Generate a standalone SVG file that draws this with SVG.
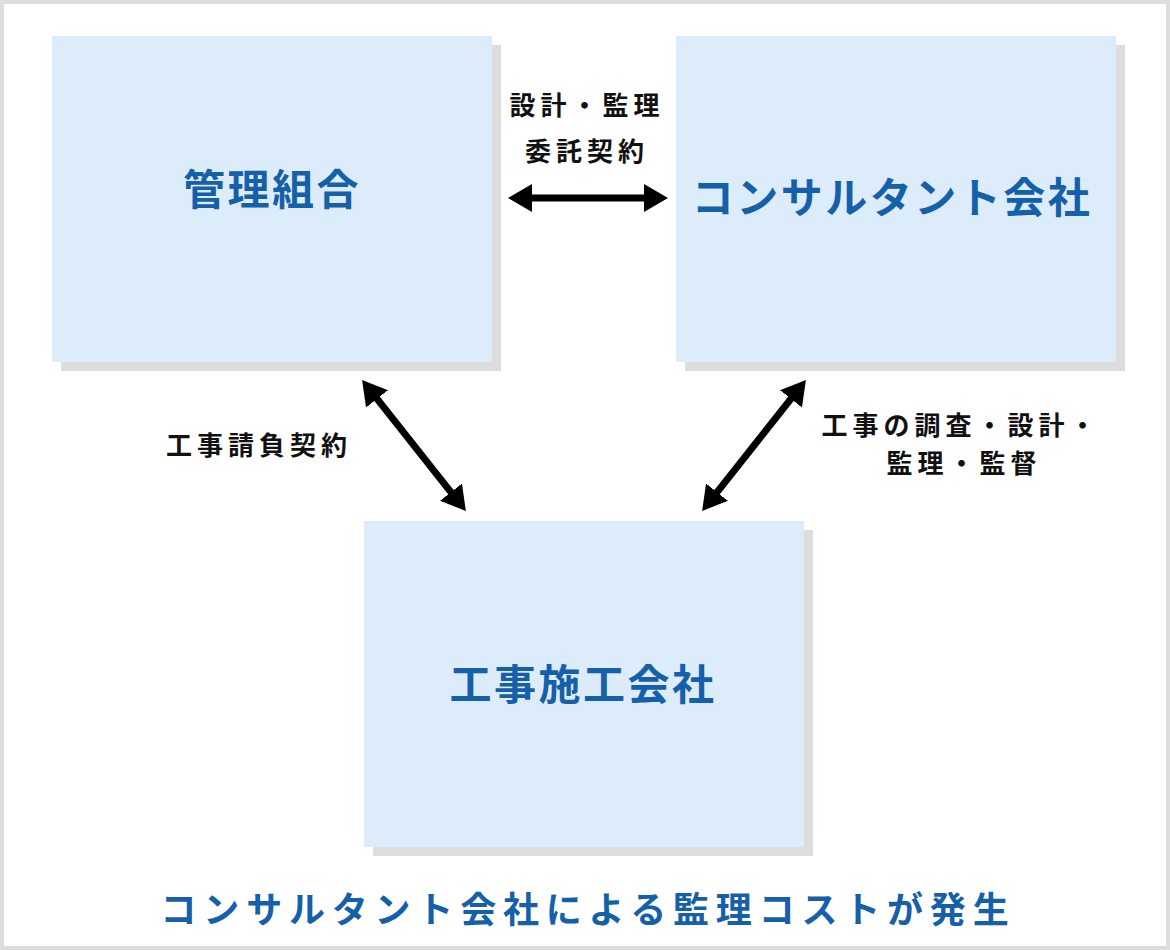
<svg xmlns="http://www.w3.org/2000/svg" width="1170" height="950" viewBox="0 0 1170 950">
<style>
.shadow{fill:#dddddd}
.box{fill:#ddecfb}
.title{font-family:"Noto Sans CJK JP","Noto Sans",sans-serif;font-weight:700;font-size:42px;fill:#1560a8;letter-spacing:2.5px;text-anchor:middle}
.lbl{font-family:"Noto Sans CJK JP","Noto Sans",sans-serif;font-weight:700;font-size:26px;fill:#111111;letter-spacing:5px;text-anchor:middle}
.cap{font-family:"Noto Sans CJK JP","Noto Sans",sans-serif;font-weight:700;font-size:36px;fill:#1560a8;letter-spacing:6.8px;text-anchor:middle}
.conn{stroke:#000;stroke-width:7;fill:none;marker-start:url(#ah);marker-end:url(#ah)}
</style>
<defs>
<marker id="ah" viewBox="0 0 24 28" refX="11" refY="14" markerWidth="24" markerHeight="28" markerUnits="userSpaceOnUse" orient="auto-start-reverse">
<path d="M0,0 L24,14 L0,28 Z" fill="#000"/>
</marker>
</defs>
<rect x="0" y="0" width="1170" height="950" fill="#dddddd"/>
<rect x="4" y="4" width="1162" height="942" fill="#ffffff"/>
<g id="node-kanri">
<rect class="shadow" x="61" y="45" width="440" height="326"/>
<rect class="box" x="52" y="36" width="440" height="326"/>
<text class="title" x="272" y="205">管理組合</text>
</g>
<g id="node-consultant">
<rect class="shadow" x="685" y="45" width="440" height="326"/>
<rect class="box" x="676" y="36" width="440" height="326"/>
<text class="title" x="892" y="213">コンサルタント会社</text>
</g>
<g id="node-koji">
<rect class="shadow" x="373" y="530" width="440" height="326"/>
<rect class="box" x="364" y="521" width="440" height="326"/>
<text class="title" x="583" y="700">工事施工会社</text>
</g>
<g id="connectors">
<line class="conn" x1="521" y1="198" x2="655" y2="198"/>
<line class="conn" x1="370.2" y1="390.2" x2="457.8" y2="500.8"/>
<line class="conn" x1="797.8" y1="390.2" x2="710.2" y2="500.8"/>
</g>
<g id="labels">
<text class="lbl" x="587" y="115">設計・監理</text>
<text class="lbl" x="587" y="161">委託契約</text>
<text class="lbl" x="259" y="455">工事請負契約</text>
<text class="lbl" x="961" y="435">工事の調査・設計・</text>
<text class="lbl" x="964" y="473">監理・監督</text>
</g>
<text id="caption" class="cap" x="588" y="923">コンサルタント会社による監理コストが発生</text>
</svg>
